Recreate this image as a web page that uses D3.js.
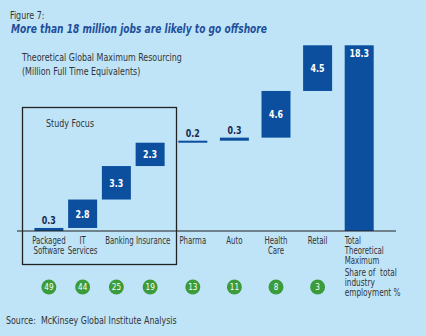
<!DOCTYPE html>
<html>
<head>
<meta charset="utf-8">
<script src="https://cdn.jsdelivr.net/npm/d3@7"></script>
<style>
  html, body { margin: 0; padding: 0; background: #bfe4f8; }
  svg { display: block; font-family: "DejaVu Sans Condensed", "DejaVu Sans", sans-serif; }
</style>
</head>
<body>
<div id="grafico"></div>
<script>
// industries, split into the study focus group and the rest
const focusSectors = ["Packaged Software", "IT Services", "Banking", "Insurance"];
const otherSectors = ["Pharma", "Auto", "Health Care", "Retail", "Total"];
const sectorLabels = [["Packaged", "Software"], ["IT", "Services"], ["Banking"], ["Insurance"],
                      ["Pharma"], ["Auto"], ["Health", "Care"], ["Retail"], ["Total", "Theoretical", "Maximum"]];
// million FTE per industry, the last one is the total
const jobs = [0.3, 2.8, 3.3, 2.3, 0.2, 0.3, 4.6, 4.5, 18.3];
// share of total industry employment, %
const shares = [49, 44, 25, 19, 13, 11, 8, 3];

const W = 426, H = 336;
const blue = "#0b4f9e";
const ink = "#333";

// narrow the text horizontally around its x anchor (condensed look)
let squeeze = (sel, k) => sel.attr("transform", function () {
  const x = +d3.select(this).attr("x") || 0;
  return `translate(${x * (1 - k)},0) scale(${k},1)`;
});

let svg = d3.select("#grafico").append("svg")
  .attr("width", W).attr("height", H);

svg.append("rect").attr("width", W).attr("height", H).attr("fill", "#bfe4f8");

// titles
svg.append("text").attr("x", 10).attr("y", 19)
  .attr("font-size", 10.5).attr("fill", ink).text("Figure 7:")
  .call(squeeze, 0.84);
svg.append("text").attr("x", 11).attr("y", 33)
  .attr("font-size", 13).attr("font-weight", "bold").attr("font-style", "italic")
  .attr("fill", "#1f4f9a")
  .attr("textLength", 256).attr("lengthAdjust", "spacingAndGlyphs")
  .text("More than 18 million jobs are likely to go offshore");
svg.append("text").attr("x", 22).attr("y", 61)
  .attr("font-size", 10.5).attr("fill", ink).text("Theoretical Global Maximum Resourcing")
  .call(squeeze, 0.84);
svg.append("text").attr("x", 22).attr("y", 75)
  .attr("font-size", 10.5).attr("fill", ink).text("(Million Full Time Equivalents)")
  .call(squeeze, 0.84);

// x scales: the focus group sits a bit tighter than the others
const xFocus = d3.scaleBand().domain(focusSectors).range([32, 167]);
const xOther = d3.scaleBand().domain(otherSectors).range([172, 380]);
const sectors = focusSectors.concat(otherSectors);
const xc = s => focusSectors.includes(s) ? xFocus(s) + xFocus.bandwidth() / 2 : xOther(s) + xOther.bandwidth() / 2;
const barW = 29;

const y = d3.scaleLinear().domain([0, 18.3]).range([231, 45.3]);

// waterfall: each bar starts where the previous ended, total starts at 0
let running = 0;
const bars = sectors.map((s, i) => {
  const isTotal = i === sectors.length - 1;
  const start = isTotal ? 0 : running;
  const end = start + jobs[i];
  if (!isTotal) running = end;
  return { sector: s, value: jobs[i], start: start, end: end, isTotal: isTotal };
});

svg.selectAll("rect.bar")
  .data(bars)
  .enter()
  .append("rect")
    .attr("class", "bar")
    .attr("x", d => xc(d.sector) - barW / 2)
    .attr("y", d => y(d.end))
    .attr("width", barW)
    .attr("height", d => y(d.start) - y(d.end))
    .attr("fill", blue);

// value labels: white inside big bars, navy above the thin ones
svg.selectAll("text.val")
  .data(bars)
  .enter()
  .append("text")
    .attr("class", "val")
    .attr("text-anchor", "middle")
    .attr("font-size", 11)
    .attr("font-weight", "bold")
    .attr("x", d => xc(d.sector))
    .attr("y", d => {
      if (d.isTotal) return y(d.end) + 12;
      if (d.value < 1) return y(d.end) - 4;
      return (y(d.start) + y(d.end)) / 2 + 4;
    })
    .attr("fill", d => d.value < 1 ? "#1a2a55" : "#fff")
    .text(d => d.value.toFixed(1))
    .call(squeeze, 0.8);

// baseline
svg.append("line")
  .attr("x1", 17).attr("x2", 396)
  .attr("y1", y(0)).attr("y2", y(0))
  .attr("stroke", "#222").attr("stroke-width", 1.2);

// category labels
let cats = svg.selectAll("text.cat")
  .data(sectors)
  .enter()
  .append("text")
    .attr("class", "cat")
    .attr("font-size", 10)
    .attr("fill", ink)
    .attr("text-anchor", (d, i) => i === sectors.length - 1 ? "start" : "middle")
    .attr("x", (d, i) => {
      if (i === sectors.length - 1) return xc(d) - barW / 2;
      // the two single-word focus labels sit a little right of their bars
      if (d === "Banking" || d === "Insurance") return xc(d) + 3;
      return xc(d);
    })
    .attr("y", 244);
cats.selectAll("tspan")
  .data((d, i) => sectorLabels[i])
  .enter()
  .append("tspan")
    .attr("x", function () { return d3.select(this.parentNode).attr("x"); })
    .attr("dy", (d, i) => i === 0 ? 0 : 10.2)
    .text(d => d);
cats.call(squeeze, 0.78);

// study focus frame
svg.append("rect")
  .attr("x", 22.5).attr("y", 107.5)
  .attr("width", 154).attr("height", 157)
  .attr("fill", "none").attr("stroke", "#222").attr("stroke-width", 1.3);
svg.append("text").attr("x", 46).attr("y", 127)
  .attr("font-size", 10.5).attr("fill", ink).text("Study Focus")
  .call(squeeze, 0.84);

// share of employment bubbles
let bub = svg.selectAll("g.share")
  .data(shares)
  .enter()
  .append("g")
    .attr("class", "share")
    .attr("transform", (d, i) => `translate(${xc(sectors[i])},287)`);
bub.append("circle").attr("r", 7.5).attr("fill", "#3b9c3c");
bub.append("text")
  .attr("text-anchor", "middle").attr("dy", 3.3)
  .attr("font-size", 9.5).attr("fill", "#fff")
  .text(d => d)
  .call(squeeze, 0.85);

svg.append("text")
  .attr("font-size", 10).attr("fill", ink)
  .attr("x", xc("Total") - barW / 2).attr("y", 276)
  .call(squeeze, 0.82)
  .selectAll("tspan")
  .data(["Share of  total", "industry", "employment %"])
  .enter()
  .append("tspan")
    .attr("x", xc("Total") - barW / 2)
    .attr("dy", (d, i) => i === 0 ? 0 : 10.2)
    .attr("xml:space", "preserve")
    .text(d => d);

svg.append("text").attr("x", 6).attr("y", 324)
  .attr("font-size", 10.5).attr("fill", ink)
  .attr("xml:space", "preserve")
  .text("Source:  McKinsey Global Institute Analysis")
  .call(squeeze, 0.84);
</script>
</body>
</html>
